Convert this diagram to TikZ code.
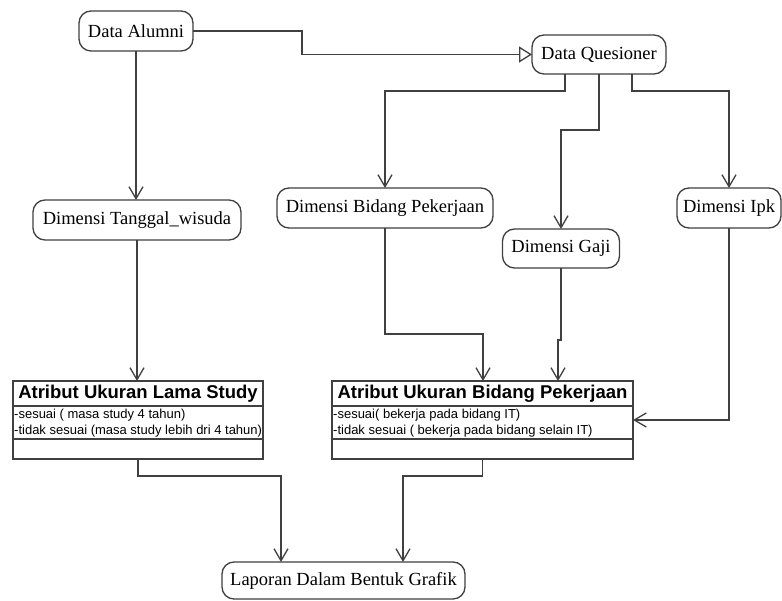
\documentclass[tikz,border=0pt]{standalone}
\usepackage{fontspec}
\setmainfont{Liberation Serif}
\setsansfont{Liberation Sans}
\usetikzlibrary{arrows.meta}
\definecolor{ln}{gray}{0.25}
\tikzset{
  rbox/.style={draw=ln, line width=1.3pt, rounded corners=12pt, outer sep=0pt, inner sep=0pt,
    font=\fontsize{18.5}{22}\selectfont, text=black},
  cbox/.style={draw=ln, line width=1.3pt, outer sep=0pt, inner sep=0pt, anchor=north west},
  ctitle/.style={font=\sffamily\bfseries\fontsize{18.5}{22}\selectfont, inner sep=0pt},
  cattr/.style={font=\sffamily\fontsize{13}{16}\selectfont, inner sep=0pt, anchor=west, align=left},
  arr/.style={draw=ln, line width=1.3pt, -{Straight Barb[length=12pt,width=14pt]}},
  tri/.style={draw=ln, line width=1.3pt, -{Triangle[open,length=13pt,width=16pt,fill=white]}},
  sep/.style={draw=ln, line width=1.3pt}
}
\begin{document}
\begin{tikzpicture}[x=1pt,y=-1pt]
\useasboundingbox[fill=white] (0,0) rectangle (782,601);
% rounded nodes
\node[rbox, minimum width=114pt, minimum height=40pt] (alumni) at (136,31) {Data Alumni};
\node[rbox, minimum width=134pt, minimum height=39pt] (ques) at (599,54.5) {Data Quesioner};
\node[rbox, minimum width=208pt, minimum height=40pt] (tgl) at (137,220) {Dimensi Tanggal\_wisuda};
\node[rbox, minimum width=216pt, minimum height=40pt] (bid) at (385,208) {Dimensi Bidang Pekerjaan};
\node[rbox, minimum width=117pt, minimum height=39pt] (gaji) at (561,248.5) {Dimensi Gaji};
\node[rbox, minimum width=104pt, minimum height=40pt] (ipk) at (729,208) {Dimensi Ipk};
\node[rbox, minimum width=243pt, minimum height=37pt] (lap) at (343.5,580.5) {Laporan Dalam Bentuk Grafik};
% class boxes
\node[cbox, minimum width=250pt, minimum height=78pt] (lama) at (13,381) {};
\draw[sep] (13,406) -- (263,406);
\draw[sep] (13,439) -- (263,439);
\node[ctitle] (lamat) at (138,393.5) {Atribut Ukuran Lama Study};
\node[cattr] (lamaa) at (14,415) {-sesuai ( masa study 4 tahun)};
\node[cattr] (lamab) at (14,431) {-tidak sesuai (masa study lebih dri 4 tahun)};
\node[cbox, minimum width=301pt, minimum height=78pt] (bidk) at (332,381) {};
\draw[sep] (332,406) -- (633,406);
\draw[sep] (332,439) -- (633,439);
\node[ctitle] (bidkt) at (482.5,393.5) {Atribut Ukuran Bidang Pekerjaan};
\node[cattr] (bidka) at (333,415) {-sesuai( bekerja pada bidang IT)};
\node[cattr] (bidkb) at (333,431) {-tidak sesuai ( bekerja pada bidang selain IT)};
% junctions
\coordinate (ja) at (302,31);
\coordinate (j1) at (385,91);
\coordinate (j2) at (561,130);
\coordinate (j3) at (729,91);
\coordinate (j4) at (483,334);
\coordinate (j5) at (558,340);
\coordinate (j7) at (281,476);
\coordinate (j8) at (403,476);
% connectors
\draw[tri] (alumni.east) -- (ja) |- (ques.west);
\draw[arr] (alumni.south) -- (alumni.south |- tgl.north);
\draw[arr] ([xshift=-34pt]ques.south) |- (j1) -- (bid.north);
\draw[arr] (ques.south) |- (j2) -- (gaji.north);
\draw[arr] ([xshift=33pt]ques.south) |- (j3) -- (ipk.north);
\draw[arr] (tgl.south) -- (tgl.south |- lama.north);
\draw[arr] (bid.south) |- (j4) -- (j4 |- bidk.north);
\draw[arr] (gaji.south) |- (j5) -- (j5 |- bidk.north);
\draw[arr] (ipk.south) |- (bidk.east);
\draw[arr] (lama.south) |- (j7) -- (j7 |- lap.north);
\draw[arr] (bidk.south) |- (j8) -- (j8 |- lap.north);
\end{tikzpicture}
\end{document}
